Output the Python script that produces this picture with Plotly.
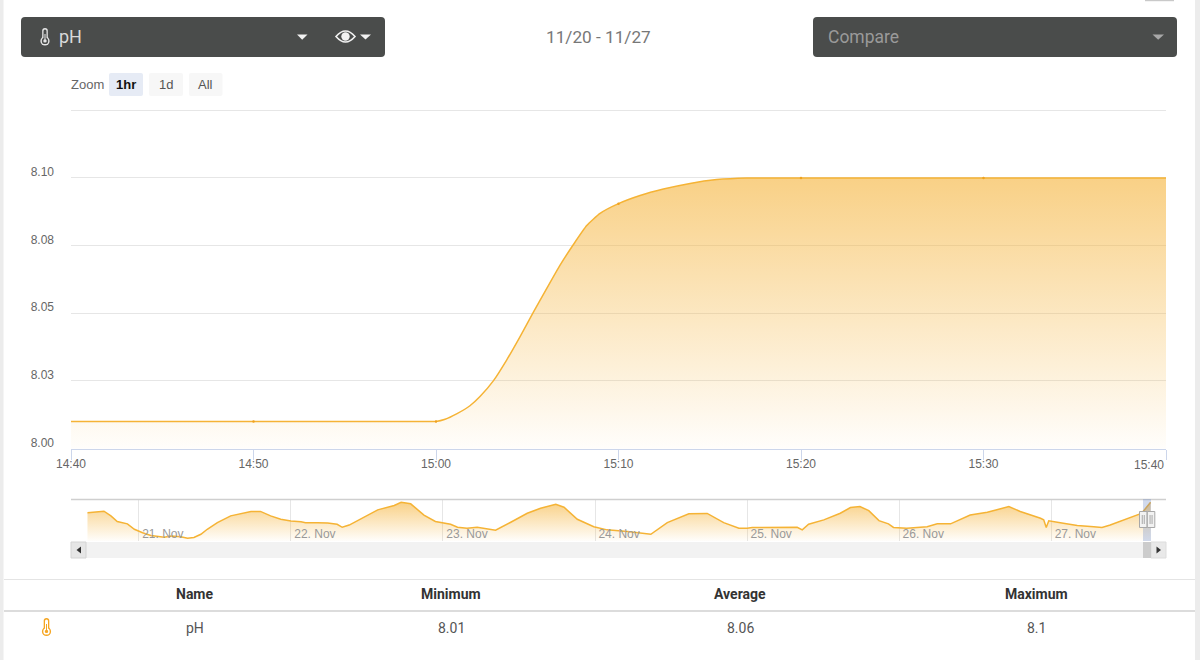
import pandas as pd
import plotly.graph_objects as go

# Detail series: minutes after 14:40 and pH readings
detail_minutes = [0, 10, 18, 19, 20, 20.5, 21.13, 21.86, 22.41, 23.14, 23.87, 24.6, 25.33, 26.07, 26.79,
                  27.53, 28.26, 28.99, 30, 31.18, 32.46, 33.92, 35.38, 37.02, 40, 50, 60]
detail_values = [8.01, 8.01, 8.01, 8.01, 8.01, 8.0108, 8.0128, 8.0158, 8.0192, 8.0250, 8.0327, 8.0413,
                 8.0503, 8.0592, 8.0677, 8.0754, 8.0824, 8.0869, 8.0905, 8.0935, 8.0959, 8.098,
                 8.0994, 8.1, 8.1, 8.1, 8.1]
sample_minutes = [10, 20, 30, 40, 50]
sample_values = [8.01, 8.01, 8.0905, 8.1, 8.1]

# Week overview: hours after 20 Nov 00:00 and pH readings
week_hours = [15.9, 17.2, 18.5, 19.6, 20.6, 22.2, 23.3, 24.6, 25.9, 28.0, 29.1, 30.6, 31.7, 32.7,
              33.8, 34.8, 36.4, 38.5, 40.1, 41.7, 43.2, 44.8, 46.4, 48.0, 49.6, 50.3, 52.2, 53.8,
              55.3, 56.1, 57.2, 59.0, 61.7, 64.3, 65.4, 66.9, 69.0, 70.8, 71.4, 73.2, 74.3, 75.8,
              77.4, 79.5, 80.3, 82.7, 85.3, 87.4, 89.8, 91.1, 93.2, 95.8, 97.9, 101.1, 104.8,
              107.4, 110.8, 113.7, 116.3, 118.7, 120.0, 120.8, 122.1, 127.9, 128.7, 129.7, 132.1,
              134.7, 136.3, 137.8, 139.2, 140.8, 142.3, 143.1, 145.2, 148.4, 150.0, 152.1, 155.2,
              157.9, 161.3, 163.1, 166.3, 166.8, 167.2, 167.6, 169.9, 172.1, 174.7, 176.0, 177.3,
              178.9, 182.0, 182.5, 183.67]
week_values = [8.074, 8.075, 8.0775, 8.066, 8.052, 8.046, 8.0325, 8.024, 8.017, 8.0125, 8.016,
               8.014, 8.01, 8.012, 8.02, 8.0325, 8.049, 8.066, 8.071, 8.077, 8.077, 8.066, 8.0575,
               8.053, 8.051, 8.049, 8.049, 8.048, 8.045, 8.0375, 8.043, 8.0575, 8.081, 8.092, 8.1,
               8.096, 8.068, 8.052, 8.05, 8.045, 8.0375, 8.035, 8.0375, 8.0325, 8.03, 8.05, 8.0725,
               8.085, 8.095, 8.0875, 8.0575, 8.039, 8.031, 8.027, 8.02, 8.049, 8.071, 8.072, 8.049,
               8.035, 8.035, 8.037, 8.037, 8.0375, 8.031, 8.045, 8.056, 8.0725, 8.0867, 8.089,
               8.079, 8.054, 8.046, 8.037, 8.035, 8.039, 8.046, 8.046, 8.068, 8.075, 8.089, 8.077,
               8.06, 8.056, 8.037, 8.0535, 8.0475, 8.042, 8.039, 8.037, 8.043, 8.053, 8.071, 8.077,
               8.1]

y_ticks = [8.0, 8.025, 8.05, 8.075, 8.1, 8.125]
y_labels = ["8.00", "8.03", "8.05", "8.08", "8.10", ""]
time_ticks = [0, 10, 20, 30, 40, 50, 60]
time_labels = ["14:40", "14:50", "15:00", "15:10", "15:20", "15:30", ""]
day_numbers = [21, 22, 23, 24, 25, 26, 27]
day_labels = ["21. Nov", "22. Nov", "23. Nov", "24. Nov", "25. Nov", "26. Nov", "27. Nov"]

table_headers = ["Name", "Minimum", "Average", "Maximum"]
table_row = ["pH", "8.01", "8.06", "8.1"]

W, H = 1200, 660
SANS = "Liberation Sans, Arial, sans-serif"
ROBOTO = "Roboto, Arial, sans-serif"
LINE = "#f5b335"


def fx(x):
    return x / W


def fy(y):
    return 1 - y / H


def at_minute(m):
    return pd.Timestamp("2023-11-27 14:40") + pd.Timedelta(minutes=m)


def at_hour(h):
    return pd.Timestamp("2023-11-20 00:00") + pd.Timedelta(hours=h)


shapes = []
notes = []


def rect(x0, y0, x1, y1, fill, line=None, width=0, layer="above"):
    shapes.append(dict(type="rect", xref="paper", yref="paper", x0=fx(x0), x1=fx(x1),
                       y0=fy(y0), y1=fy(y1), fillcolor=fill, layer=layer,
                       line=dict(color=line or fill, width=width)))


def round_rect(x0, y0, x1, y1, r, fill, line=None, width=0):
    p = (f"M {fx(x0 + r)} {fy(y0)} L {fx(x1 - r)} {fy(y0)} Q {fx(x1)} {fy(y0)} {fx(x1)} {fy(y0 + r)} "
         f"L {fx(x1)} {fy(y1 - r)} Q {fx(x1)} {fy(y1)} {fx(x1 - r)} {fy(y1)} "
         f"L {fx(x0 + r)} {fy(y1)} Q {fx(x0)} {fy(y1)} {fx(x0)} {fy(y1 - r)} "
         f"L {fx(x0)} {fy(y0 + r)} Q {fx(x0)} {fy(y0)} {fx(x0 + r)} {fy(y0)} Z")
    shapes.append(dict(type="path", xref="paper", yref="paper", path=p, fillcolor=fill,
                       layer="above", line=dict(color=line or fill, width=width)))


def poly(points, fill):
    p = "M " + " L ".join(f"{fx(x)} {fy(y)}" for x, y in points) + " Z"
    shapes.append(dict(type="path", xref="paper", yref="paper", path=p, fillcolor=fill,
                       layer="above", line=dict(width=0)))


def circle(cx, cy, r, fill, line=None, width=0):
    shapes.append(dict(type="circle", xref="paper", yref="paper", x0=fx(cx - r), x1=fx(cx + r),
                       y0=fy(cy - r), y1=fy(cy + r), fillcolor=fill, layer="above",
                       line=dict(color=line or fill, width=width)))


def hline(x0, x1, y, color, width=1):
    shapes.append(dict(type="line", xref="paper", yref="paper", x0=fx(x0), x1=fx(x1),
                       y0=fy(y), y1=fy(y), layer="above", line=dict(color=color, width=width)))


def vline(x, y0, y1, color, width=1):
    shapes.append(dict(type="line", xref="paper", yref="paper", x0=fx(x), x1=fx(x),
                       y0=fy(y0), y1=fy(y1), layer="above", line=dict(color=color, width=width)))


def text(x, y, s, size, color, family=ROBOTO, anchor="center", bold=False):
    notes.append(dict(xref="paper", yref="paper", x=fx(x), y=fy(y), text=f"<b>{s}</b>" if bold else s,
                      showarrow=False, xanchor=anchor, yanchor="middle",
                      font=dict(size=size, color=color, family=family),
                      borderpad=0, borderwidth=0))


def thermometer(cx, top, bottom, stroke, fill, width):
    round_rect(cx - 2.8, top, cx + 2.8, bottom - 4, 2.8, stroke)
    circle(cx, bottom - 4.6, 4.6, stroke)
    round_rect(cx - 1.5, top + 1.4, cx + 1.5, bottom - 4, 1.5, fill)
    circle(cx, bottom - 4.6, 3.2, fill)
    vline(cx, top + 6, bottom - 4, stroke, width)
    circle(cx, bottom - 4.6, 1.7, stroke)


# Page edges and the small tab clipped by the top of the page
rect(0, 0, 3.5, H, "#ececec")
rect(1195, 0, W, H, "#ececec")
rect(1145, 0, 1174, 1.2, "#c9c9c9")

# Toolbar
DARK = "#4a4c4b"
round_rect(21, 17, 385, 57, 4, DARK)
round_rect(813, 17, 1177, 57, 4, DARK)
thermometer(45, 28, 45.5, "#e6e6e6", DARK, 1)
text(59, 37, "pH", 18, "#d9d9d9", anchor="left")
poly([(297, 34.5), (307.5, 34.5), (302.2, 39.8)], "#f2f2f2")
poly([(360, 34.5), (371, 34.5), (365.5, 39.5)], "#f2f2f2")
eye = (f"M {fx(336)} {fy(36.5)} Q {fx(345.5)} {fy(25.5)} {fx(355)} {fy(36.5)} "
       f"Q {fx(345.5)} {fy(47.5)} {fx(336)} {fy(36.5)} Z")
shapes.append(dict(type="path", xref="paper", yref="paper", path=eye, fillcolor=DARK,
                   layer="above", line=dict(color="#f2f2f2", width=1.6)))
circle(345.5, 36.5, 4.2, "#f2f2f2")
text(598.5, 37, "11/20 - 11/27", 17.2, "#777777")
text(828, 37, "Compare", 17.5, "#9a9a9a", anchor="left")
poly([(1152.5, 34.5), (1164, 34.5), (1158.2, 39.8)], "#a8a8a8")

# Range selector
text(71, 84.2, "Zoom", 13, "#666666", family=SANS, anchor="left")
round_rect(109, 73, 143, 96, 2, "#e6ebf5")
round_rect(149, 73, 183, 96, 2, "#f7f7f7")
round_rect(189, 73, 222.5, 96, 2, "#f7f7f7")
text(126, 84.2, "1hr", 13, "#111111", family=SANS, bold=True)
text(166, 84.2, "1d", 13, "#555555", family=SANS)
text(205.5, 84.2, "All", 13, "#555555", family=SANS)

# Last label of the detail axis sits inside the plot edge
notes.append(dict(xref="x", yref="paper", x=at_minute(60), y=fy(465), text="15:40", showarrow=False,
                  xanchor="right", yanchor="middle", font=dict(size=12, color="#666666", family=SANS)))

# Overview frame, selection mask, scrollbar and handles
hline(71, 1166, 499.5, "#cfcfcf", 1.5)
rect(71, 542, 1166, 558, "#f2f2f2")
rect(71, 542, 86, 558, "#e6e6e6", "#d4d4d4", 1)
rect(1151, 542, 1166, 558, "#e9e9e9", "#dddddd", 1)
poly([(81, 546.5), (81, 553.5), (76.5, 550)], "#333333")
poly([(1156.5, 546.5), (1156.5, 553.5), (1161, 550)], "#333333")
rect(1143, 542, 1151, 558, "#cccccc")
rect(1143, 499, 1151, 541, "rgba(102,133,194,0.3)")
for left, right in ((1139.5, 1147), (1147.3, 1154.8)):
    rect(left, 511.5, right, 527.5, "#f2f2f2", "#a8a8a8", 1)
    vline((left + right) / 2 - 1, 515, 524, "#a8a8a8", 1)
    vline((left + right) / 2 + 1, 515, 524, "#a8a8a8", 1)

# Summary table
hline(4, 1195, 579.5, "#e4e4e4", 1)
hline(4, 1195, 611, "#dcdcdc", 2)
for cx, head, cell in zip((194.5, 451, 740, 1036), table_headers, table_row):
    text(cx, 594.3, head, 14, "#333333", bold=True)
    text(cx, 628, cell, 14, "#555555")
thermometer(46.5, 618, 636, "#f5a623", "#ffffff", 1)

fig = go.Figure()

fig.add_trace(go.Scatter(
    x=[at_minute(m) for m in detail_minutes], y=detail_values, mode="lines",
    line=dict(color=LINE, width=1.5, shape="spline", smoothing=0.5), fill="tozeroy",
    fillgradient=dict(type="vertical", start=8.0, stop=8.1,
                      colorscale=[[0, "rgba(245,180,60,0.02)"], [1, "rgba(245,180,60,0.62)"]]),
    hoverinfo="skip", showlegend=False, xaxis="x", yaxis="y"))
fig.add_trace(go.Scatter(
    x=[at_minute(m) for m in sample_minutes], y=sample_values, mode="markers",
    marker=dict(color="#f0a21f", size=2.5), hoverinfo="skip", showlegend=False, xaxis="x", yaxis="y"))
fig.add_trace(go.Scatter(
    x=[at_hour(h) for h in week_hours], y=week_values, mode="lines",
    line=dict(color=LINE, width=1.5), fill="tozeroy",
    fillgradient=dict(type="vertical", start=8.0032, stop=8.1,
                      colorscale=[[0, "rgba(245,180,60,0.02)"], [1, "rgba(245,180,60,0.62)"]]),
    hoverinfo="skip", showlegend=False, xaxis="x2", yaxis="y2"))

fig.update_layout(
    width=W, height=H, margin=dict(l=0, r=0, t=0, b=0, autoexpand=False),
    paper_bgcolor="white", plot_bgcolor="white", showlegend=False,
    shapes=shapes, annotations=notes,
    xaxis=dict(domain=[fx(71), fx(1166)], anchor="y", type="date",
               range=[at_minute(0), at_minute(60)],
               tickmode="array", tickvals=[at_minute(m) for m in time_ticks], ticktext=time_labels,
               ticks="outside", ticklen=10, tickcolor="#ccd6eb", tickwidth=1,
               ticklabelstandoff=-6,
               showline=True, linecolor="#ccd6eb", linewidth=1, showgrid=False, zeroline=False,
               tickfont=dict(size=12, color="#666666", family=SANS)),
    yaxis=dict(domain=[fy(448.5), fy(106.3)], anchor="x", range=[8.0, 8.1265],
               tickmode="array", tickvals=y_ticks, ticktext=y_labels,
               ticks="", ticklabelstandoff=16, ticklabelshift=-6,
               showgrid=True, gridcolor="#e6e6e6", gridwidth=1, showline=False, zeroline=False,
               tickfont=dict(size=12, color="#666666", family=SANS)),
    xaxis2=dict(domain=[fx(71), fx(1166)], anchor="y2", type="date",
                range=[at_hour(13.3), at_hour(186.1)],
                tickmode="array", tickvals=[at_hour(d * 24 - 480) for d in day_numbers],
                ticktext=day_labels, ticks="", ticklabelposition="inside", ticklabelshift=24,
                ticklabelstandoff=-2,
                showgrid=True, gridcolor="#e6e6e6", gridwidth=1, showline=False, zeroline=False,
                tickfont=dict(size=12, color="#999999", family=SANS)),
    yaxis2=dict(domain=[fy(541), fy(499)], anchor="x2", range=[8.00325, 8.108],
                visible=False, showgrid=False, zeroline=False),
)

fig.write_html("out.html", config={"displayModeBar": False})
